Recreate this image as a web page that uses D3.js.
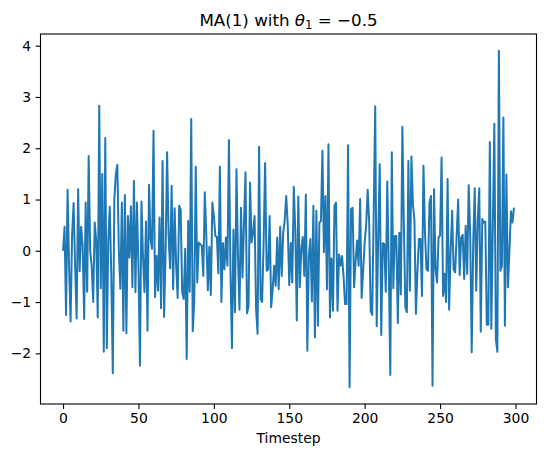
<!DOCTYPE html>
<html>
<head>
<meta charset="utf-8">
<script src="https://cdn.jsdelivr.net/npm/d3@7"></script>
<style>
  body { margin: 0; background: #fff; }
  text { font-family: "DejaVu Sans", sans-serif; fill: #000; }
</style>
</head>
<body>
<script>
// MA(1) series, one value per timestep
let values = [
    0.0, 0.47, -1.25, 1.19, -0.3, -1.38, 0.3, 0.93, -0.3, -1.32,
    1.2, -0.4, 0.47, 0.1, -1.33, 0.94, -0.8, 1.85, 0.0, -0.3,
    -1.0, 0.55, 0.2, -1.3, 2.83, -0.73, 1.5, -1.97, 2.2, -1.9,
    0.2, 0.86, -0.5, -2.39, 1.0, 1.5, 1.68, 0.0, -0.74, 0.94,
    -1.56, 1.09, -1.61, 0.68, -0.13, 0.87, -0.71, 1.36, -0.81, 0.94,
    -0.29, -2.24, 0.96, -0.1, -0.81, 0.57, -1.56, 1.29, 0.23, 0.04,
    2.34, -0.9, -0.1, -0.78, 0.65, -1.12, 1.75, -1.29, -0.03, 1.92,
    0.29, -0.34, 1.27, -0.75, 0.83, -0.29, -0.92, 0.88, 0.8, -0.81,
    -0.94, 0.04, -2.11, 0.58, -0.8, 2.57, -1.57, -1.0, 1.64, -0.62,
    0.16, 0.13, 0.1, -0.49, 1.14, 0.3, -0.77, 0.08, -0.86, 0.94,
    0.68, 0.29, 0.27, -0.44, 1.64, -1.0, 0.15, -0.36, 0.26, -0.29,
    2.16, -0.36, -1.9, 0.41, -1.2, 1.59, -0.1, -1.15, 0.84, -0.52,
    0.55, 1.53, -1.22, -1.08, 1.33, 0.16, 0.35, 0.68, -1.14, -1.62,
    2.03, -0.94, -1.0, 0.16, 1.71, -0.39, -0.36, 0.68, -1.1, -0.75,
    -0.29, -0.68, 0.26, -0.75, 0.47, -0.49, 0.35, 0.6, 1.07, 0.5,
    -0.67, 0.15, -0.62, 1.25, 0.4, -1.36, 1.06, -0.71, 0.04, 0.27,
    -0.49, 1.1, -1.95, -0.1, 0.23, -0.99, 0.88, -1.69, 0.78, -1.46,
    0.55, 0.58, 1.95, -0.03, 1.07, -0.75, 2.08, -1.3, -0.15, -1.17,
    0.88, 0.94, -1.17, -0.07, -0.29, -0.1, -0.5, -1.04, -1.04, 2.06,
    -2.66, 0.81, 0.84, -0.71, -0.2, 0.2, -0.29, 1.01, -0.92, -0.39,
    0.16, 0.5, 1.19, 0.55, -1.17, -1.25, 0.75, 2.82, -1.47, 0.3,
    1.69, -1.64, 0.15, 0.13, -0.8, 1.35, -0.3, -2.42, 1.92, -0.73,
    0.29, 0.29, -1.41, 0.35, -0.85, 2.42, 0.5, -1.1, -1.2, 1.75,
    -0.78, 1.84, 0.9, 0.6, -1.23, -0.4, 0.23, 0.23, -0.88, 1.66,
    0.35, -0.36, -0.39, 0.94, 1.07, -2.63, 1.2, -0.36, -0.62, 0.26,
    0.3, 1.82, -0.88, -0.45, -1.0, 1.4, -1.15, -0.03, 0.78, -0.36,
    -0.42, 0.3, 1.0, -0.47, 0.26, 0.31, -0.55, 0.49, -0.45, 1.28,
    0.3, -1.98, 0.16, 1.22, -0.78, 0.6, 1.22, -1.58, 0.62, 0.55,
    0.57, -1.44, -1.44, 2.12, -1.52, 0.5, 2.48, -1.72, -1.97, 3.9,
    -0.39, -0.3, 2.6, -1.46, 1.49, -0.71, 0.0, 0.77, 0.55, 0.84
];
let timesteps = d3.range(values.length);

let xTicks = [0, 50, 100, 150, 200, 250, 300];
let yTicks = [-2, -1, 0, 1, 2, 3, 4];

window.onload = function() {
    let width = 546;
    let height = 457;
    let left = 40.5, right = 536.5, top = 34, bottom = 404;

    let svg = d3.select("body")
        .append("svg")
        .attr("width", width)
        .attr("height", height);

    // matplotlib style 5% margins around the data
    let xMin = d3.min(timesteps), xMax = d3.max(timesteps);
    let xPad = (xMax - xMin) * 0.05;
    let x = d3.scaleLinear()
        .domain([xMin - xPad, xMax + xPad])
        .range([left, right]);

    let yMin = d3.min(values), yMax = d3.max(values);
    let yPad = (yMax - yMin) * 0.05;
    let y = d3.scaleLinear()
        .domain([yMin - yPad, yMax + yPad])
        .range([bottom, top]);

    // the series
    let line = d3.line()
        .x((d, i) => x(timesteps[i]))
        .y(d => y(d));

    svg.append("path")
        .datum(values)
        .attr("d", line)
        .attr("fill", "none")
        .attr("stroke", "#1f77b4")
        .attr("stroke-width", 2)
        .attr("stroke-linejoin", "round");

    // axes
    let xAxis = svg.append("g")
        .attr("transform", "translate(0," + bottom + ")")
        .call(d3.axisBottom(x).tickValues(xTicks).tickSize(4.9).tickPadding(4.5));

    let yAxis = svg.append("g")
        .attr("transform", "translate(" + left + ",0)")
        .call(d3.axisLeft(y).tickValues(yTicks).tickSize(4.9).tickPadding(4.5));

    [xAxis, yAxis].forEach(function(g) {
        g.select(".domain").remove();
        g.selectAll("line").attr("stroke", "#000").attr("stroke-width", 1.1);
        g.selectAll("text")
            .style("font-family", "DejaVu Sans")
            .style("font-size", "13.9px")
            .attr("fill", "#000");
    });

    // frame
    svg.append("rect")
        .attr("x", left)
        .attr("y", top)
        .attr("width", right - left)
        .attr("height", bottom - top)
        .attr("fill", "none")
        .attr("stroke", "#000")
        .attr("stroke-width", 1.1);

    // title with math part
    let title = svg.append("text")
        .attr("x", (left + right) / 2)
        .attr("y", 26)
        .attr("text-anchor", "middle")
        .style("font-size", "16.7px");
    title.append("tspan").text("MA(1) with ");
    title.append("tspan").style("font-style", "italic").text("θ");
    title.append("tspan").attr("dy", 3).style("font-size", "11.7px").text("1");
    title.append("tspan").attr("dy", -3).text(" = −0.5");

    // x label
    svg.append("text")
        .attr("x", (left + right) / 2)
        .attr("y", 443)
        .attr("text-anchor", "middle")
        .style("font-size", "13.9px")
        .text("Timestep");
};
</script>
</body>
</html>
